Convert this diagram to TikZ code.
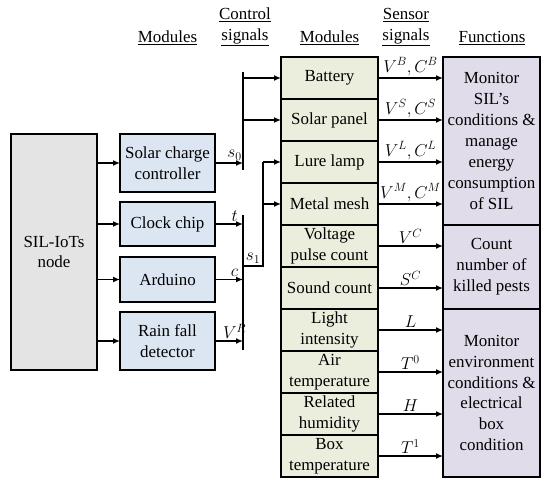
\documentclass[tikz,border=0pt]{standalone}
\usepackage{fontspec}
\setmainfont{Liberation Serif}
\usepackage{tikz}
\usetikzlibrary{arrows.meta,positioning,calc}
\definecolor{nodegray}{HTML}{E4E4E4}
\definecolor{ctrlblue}{HTML}{DCE6F2}
\definecolor{sensgreen}{HTML}{EBEEDC}
\definecolor{funcviolet}{HTML}{E1DCEA}
\begin{document}
\begin{tikzpicture}[x=1bp, y=-1bp, node distance=0bp and 20bp, every node/.style={font=\fontsize{17}{21}\selectfont}, hub/.style={draw, line width=2bp, outer sep=0bp, fill=nodegray, align=center, minimum width=86bp, minimum height=236bp}, ctrl/.style={draw, line width=2bp, outer sep=0bp, fill=ctrlblue, align=center, minimum width=95bp, inner sep=1bp}, sens/.style={draw, line width=2bp, outer sep=0bp, fill=sensgreen, align=center, minimum width=97bp, minimum height=42bp, inner sep=0bp}, func/.style={draw, line width=2bp, outer sep=0bp, fill=funcviolet, align=center, minimum width=97bp, inner sep=0bp, anchor=north west}, head/.style={align=center}, sig/.style={above, inner sep=2bp}, bus/.style={line width=1.3bp}, arr/.style={-{Latex[length=7bp,width=6bp]}, line width=1.3bp}]
\useasboundingbox (0,0) rectangle (550,489);
% headers
\node[head] (hmodin) at (167.5,38) {\underline{Modules}};
\node[head] (hctrl) at (245,27) {\underline{Control}\\\underline{signals}};
\node[head] (hmodout) at (329.5,38) {\underline{Modules}};
\node[head] (hsens) at (406,27) {\underline{Sensor}\\\underline{signals}};
\node[head] (hfunc) at (492,38) {\underline{Functions}};
% node and control modules
\node[hub] (sil) at (54,252) {SIL-IoTs\\node};
\node[ctrl, minimum height=58bp] (charger) at (167.5,163) {Solar charge\\controller};
\node[ctrl, minimum height=44bp] (clock) at (167.5,224) {Clock chip};
\node[ctrl, minimum height=45bp] (arduino) at (167.5,279.5) {Arduino};
\node[ctrl, minimum height=58bp] (rain) at (167.5,341) {Rain fall\\detector};
% sensing modules
\node[sens] (battery) at (329.5,78) {Battery};
\node[sens, below=of battery] (solar) {Solar panel};
\node[sens, below=of solar] (lamp) {Lure lamp};
\node[sens, below=of lamp] (mesh) {Metal mesh};
\node[sens, below=of mesh] (pulse) {Voltage\\pulse count};
\node[sens, below=of pulse] (sound) {Sound count};
\node[sens, below=of sound] (light) {Light\\intensity};
\node[sens, below=of light] (airtemp) {Air\\temperature};
\node[sens, below=of airtemp] (humid) {Related\\humidity};
\node[sens, below=of humid] (boxtemp) {Box\\temperature};
% functions
\node[func, minimum height=168bp] (fnenergy) at ([xshift=65bp]battery.north east) {Monitor\\SIL's\\conditions \&\\manage\\energy\\consumption\\of SIL};
\node[func, minimum height=84bp] (fnpests) at ([xshift=65bp]pulse.north east) {Count\\number of\\killed pests};
\node[func, minimum height=168bp] (fnenv) at ([xshift=65bp]light.north east) {Monitor\\environment\\conditions \&\\electrical\\box\\condition};
% node to modules
\draw[arr] (sil.east |- charger) -- (charger.west);
\draw[arr] (sil.east |- clock) -- (clock.west);
\draw[arr] (sil.east |- arduino) -- (arduino.west);
\draw[arr] (sil.east |- rain) -- (rain.west);
% control buses
\coordinate (bus) at ([xshift=28bp]charger.east);
\draw[bus] ([yshift=6bp]bus |- battery) -- ([yshift=-7bp]bus |- charger);
\draw[arr] (charger.east) -- node[sig, pos=0.7]{$s_0$} (bus |- charger);
\draw[arr] (bus |- battery) -- (battery.west);
\draw[arr] (bus |- solar) -- (solar.west);
\draw[bus] ([yshift=9bp]bus |- clock) -- ([yshift=-9bp]bus |- rain);
\draw[arr] (clock.east) -- node[sig, pos=0.7]{$t$} (bus |- clock);
\draw[arr] (arduino.east) -- node[sig, pos=0.7]{$c$} (bus |- arduino);
\draw[arr] (rain.east) -- node[sig, pos=0.7]{$V^R$} (bus |- rain);
\coordinate (split) at (263,266);
\draw[bus] (bus |- split) -- node[sig]{$s_1$} (split) -- (split |- lamp);
\draw[arr] (split |- lamp) -- (lamp.west);
\draw[arr] (split |- mesh) -- (mesh.west);
% sensor signals
\draw[arr] (battery.east) -- node[sig]{$V^B, C^B$} (fnenergy.west |- battery.east);
\draw[arr] (solar.east) -- node[sig]{$V^S, C^S$} (fnenergy.west |- solar.east);
\draw[arr] (lamp.east) -- node[sig]{$V^L, C^L$} (fnenergy.west |- lamp.east);
\draw[arr] (mesh.east) -- node[sig]{$V^M, C^M$} (fnenergy.west |- mesh.east);
\draw[arr] (pulse.east) -- node[sig]{$V^C$} (fnpests.west |- pulse.east);
\draw[arr] (sound.east) -- node[sig]{$S^C$} (fnpests.west |- sound.east);
\draw[arr] (light.east) -- node[sig]{$L$} (fnenv.west |- light.east);
\draw[arr] (airtemp.east) -- node[sig]{$T^0$} (fnenv.west |- airtemp.east);
\draw[arr] (humid.east) -- node[sig]{$H$} (fnenv.west |- humid.east);
\draw[arr] (boxtemp.east) -- node[sig]{$T^1$} (fnenv.west |- boxtemp.east);
\end{tikzpicture}
\end{document}
